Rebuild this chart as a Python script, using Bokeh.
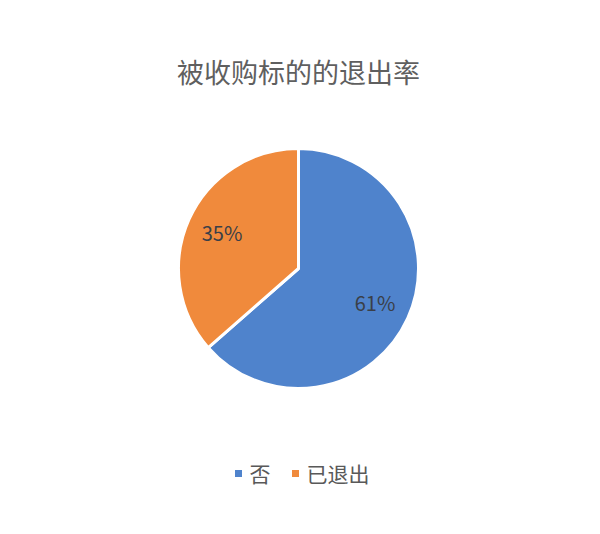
import numpy as np
from bokeh.plotting import figure
from bokeh.core.properties import value
from bokeh.embed import file_html
from bokeh.resources import INLINE

title = "被收购标的的退出率"
labels = ["否", "已退出"]
values = np.array([61, 35])
pct_text = ["61%", "35%"]
colors = ["#4F83CC", "#F08A3C"]

FONT = value("Noto Sans CJK SC")

W, H = 584, 518
cx, cy, r = 298, 250, 120

p = figure(width=W, height=H, x_range=(0, W), y_range=(0, H),
           output_backend="svg", toolbar_location=None, min_border=0)
p.axis.visible = False
p.grid.visible = False
p.outline_line_color = None

# slices go clockwise from 12 o'clock
frac = values / values.sum()
ends = np.pi / 2 - 2 * np.pi * np.cumsum(frac)
starts = np.concatenate([[np.pi / 2], ends[:-1]])
p.wedge(x=cx, y=cy, radius=r, start_angle=starts, end_angle=ends,
        direction="clock", fill_color=colors, line_color="white", line_width=3)

mid = (starts + ends) / 2
lr = 84
p.text(x=cx + lr * np.cos(mid), y=cy + 1 + lr * np.sin(mid), text=pct_text,
       text_font=FONT, text_font_size="20px", text_color="#3A3F48",
       text_align="center", text_baseline="middle")

p.text(x=[298], y=[447], text=[title], text_font=FONT, text_font_size="27px",
       text_color="#5F5F5F", text_align="center", text_baseline="middle")

# legend along the bottom
lx = [238, 295]
ly = H - 473
p.scatter(x=lx, y=[ly, ly], marker="square", size=7, fill_color=colors, line_color=None)
p.text(x=[x + 11 for x in lx], y=[ly + 1, ly + 1], text=labels, text_font=FONT,
       text_font_size="21px", text_color="#595959", text_align="left",
       text_baseline="middle")

open("out.html", "w").write(file_html(p, INLINE))
